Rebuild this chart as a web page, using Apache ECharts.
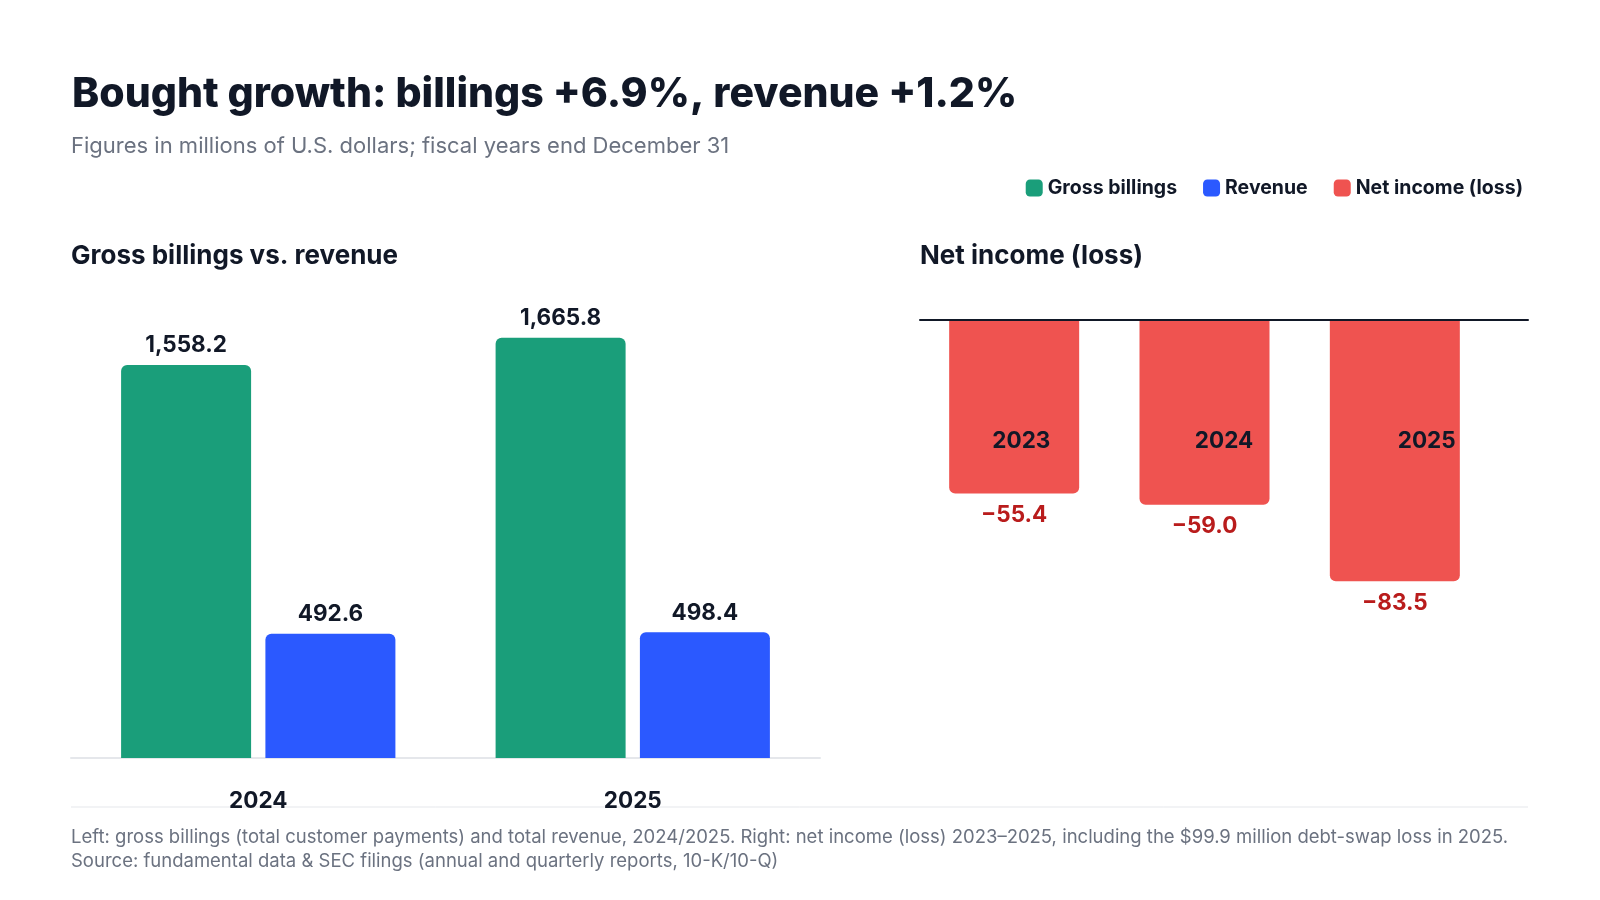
<!DOCTYPE html>
<html><head><meta charset="utf-8">
<script src="https://cdn.jsdelivr.net/npm/echarts@6/dist/echarts.min.js"></script>
<style>html,body{margin:0;background:#fff}#c{width:1600px;height:900px}</style>
</head><body><div id="c"></div>
<script>
const leftYears = ['2024', '2025'];
const grossBillings = [1558.2, 1665.8];
const revenue = [492.6, 498.4];
const niYears = ['2023', '2024', '2025'];
const netIncome = [-55.4, -59.0, -83.5];

const F = 'Inter, "Noto Sans", sans-serif';
const fmt = v => {
  const s = Math.abs(v).toLocaleString('en-US', {minimumFractionDigits: 1, maximumFractionDigits: 1});
  return (v < 0 ? '\u2212' : '') + s;
};
const chart = echarts.init(document.getElementById('c'));
chart.setOption({
  animation: false,
  textStyle: {fontFamily: F},
  title: [
    {text: 'Bought growth: billings +6.9%, revenue +1.2%', left: 67, top: 69,
     textStyle: {fontSize: 41, fontWeight: 800, color: '#111827', fontFamily: F, letterSpacing: -1.2}},
    {text: 'Figures in millions of U.S. dollars; fiscal years end December 31', left: 66, top: 130,
     textStyle: {fontSize: 22, fontWeight: 400, color: '#6b7280', fontFamily: F}},
    {text: 'Gross billings vs. revenue', left: 66, top: 238,
     textStyle: {fontSize: 26, fontWeight: 700, color: '#111827', fontFamily: F, letterSpacing: -0.3}},
    {text: 'Net income (loss)', left: 915, top: 238,
     textStyle: {fontSize: 26, fontWeight: 700, color: '#111827', fontFamily: F, letterSpacing: -0.3}}
  ],
  legend: {right: 72, top: 173, itemWidth: 17, itemHeight: 17, itemGap: 26,
    icon: 'roundRect', textStyle: {fontSize: 19.5, fontWeight: 700, color: '#111827'},
    data: ['Gross billings', 'Revenue', 'Net income (loss)']},
  grid: [
    {left: 71, right: 780, top: 304, height: 454},
    {left: 919, right: 110, top: 320, height: 313},
    {left: 920, right: 72, top: 320, height: 121}
  ],
  xAxis: [
    {type: 'category', gridIndex: 0, data: leftYears,
     axisLine: {lineStyle: {color: '#e5e7eb', width: 2}}, axisTick: {show: false},
     axisLabel: {margin: 32, fontSize: 22.5, fontWeight: 700, color: '#111827'}},
    {type: 'category', gridIndex: 1, data: niYears, show: false},
    {type: 'category', gridIndex: 2, data: niYears, position: 'bottom', z: 20,
     axisLine: {show: false}, axisTick: {show: false},
     axisLabel: {margin: 0, verticalAlign: 'middle', fontSize: 22.5, fontWeight: 700, color: '#111827'}},
    {type: 'category', gridIndex: 2, data: niYears, position: 'top', z: 20,
     axisLine: {show: true, lineStyle: {color: '#111827', width: 2}}, axisTick: {show: false}, axisLabel: {show: false}}
  ],
  yAxis: [
    {type: 'value', gridIndex: 0, min: 0, max: 1800, show: false},
    {type: 'value', gridIndex: 1, min: -100, max: 0, show: false},
    {type: 'value', gridIndex: 2, min: 0, max: 1, show: false}
  ],
  series: [
    {name: 'Gross billings', type: 'bar', xAxisIndex: 0, yAxisIndex: 0, data: grossBillings,
     barWidth: 130, barGap: '11%', itemStyle: {color: '#1a9e7a', borderRadius: [6, 6, 0, 0]},
     label: {show: true, position: 'top', distance: 8, fontSize: 22.5, fontWeight: 700, color: '#111827', formatter: p => fmt(p.value)}},
    {name: 'Revenue', type: 'bar', xAxisIndex: 0, yAxisIndex: 0, data: revenue,
     barWidth: 130, barGap: '11%', itemStyle: {color: '#2b59ff', borderRadius: [6, 6, 0, 0]},
     label: {show: true, position: 'top', distance: 8, fontSize: 22.5, fontWeight: 700, color: '#111827', formatter: p => fmt(p.value)}},
    {name: 'Net income (loss)', type: 'bar', xAxisIndex: 1, yAxisIndex: 1, data: netIncome, z: 1,
     barWidth: 130, itemStyle: {color: '#ef5350', borderRadius: [0, 0, 6, 6]},
     label: {show: true, position: 'bottom', distance: 10, fontSize: 22.5, fontWeight: 700, color: '#b91c1c', formatter: p => fmt(p.value)}}
  ],
  graphic: [
    {type: 'line', shape: {x1: 71, y1: 807, x2: 1528, y2: 807}, style: {stroke: '#e5e7eb', lineWidth: 1}},
    {type: 'text', left: 71, top: 826, style: {
      text: 'Left: gross billings (total customer payments) and total revenue, 2024/2025. Right: net income (loss) 2023\u20132025, including the $99.9 million debt-swap loss in 2025.\nSource: fundamental data & SEC filings (annual and quarterly reports, 10-K/10-Q)',
      fontSize: 18.5, lineHeight: 23.5, fill: '#6b7280', fontFamily: F}}
  ]
});
</script></body></html>
